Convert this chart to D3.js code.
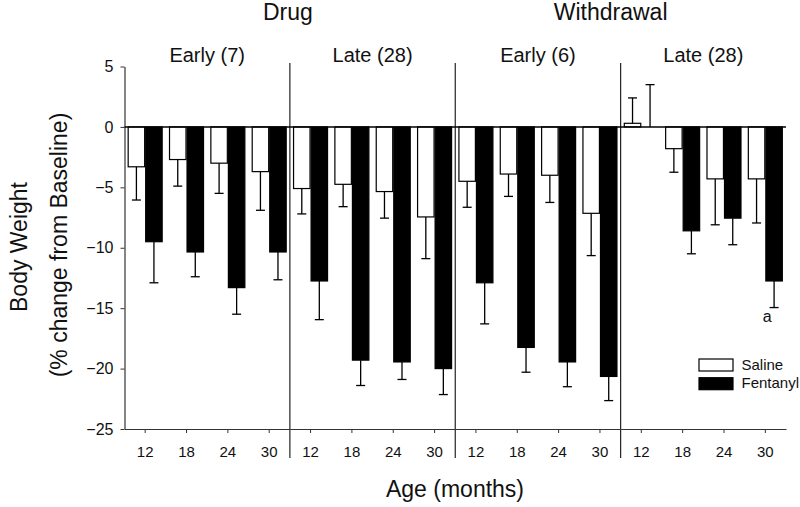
<!DOCTYPE html>
<html>
<head>
<meta charset="utf-8">
<script src="https://cdn.jsdelivr.net/npm/d3@7"></script>
<style>
  html, body { margin: 0; padding: 0; background: #fff; }
  svg { display: block; font-family: "Liberation Sans", Arial, sans-serif; }
</style>
</head>
<body>
<svg id="chart" width="800" height="507"></svg>
<script>
// ---- data ----
const phases = ["Drug", "Withdrawal"];
const panels = ["Early (7)", "Late (28)", "Early (6)", "Late (28)"];
const ages = [12, 18, 24, 30];
const series = ["Saline", "Fentanyl"];
const salineMean = [[-3.3, -2.7, -3.0, -3.7], [-5.1, -4.75, -5.35, -7.45], [-4.5, -3.9, -4.0, -7.15], [0.3, -1.8, -4.3, -4.3]];
const salineErr  = [[2.75, 2.2, 2.5, 3.2], [2.1, 1.85, 2.2, 3.45], [2.15, 1.85, 2.25, 3.5], [2.1, 1.95, 3.8, 3.65]];
const fentMean   = [[-9.5, -10.35, -13.3, -10.35], [-12.75, -19.3, -19.45, -20.0], [-12.9, -18.25, -19.45, -20.65], [0, -8.6, -7.55, -12.75]];
const fentErr    = [[3.4, 2.05, 2.2, 2.3], [3.2, 2.1, 1.45, 2.15], [3.4, 2.05, 2.05, 2.0], [3.5, 1.9, 2.2, 2.2]];
const yTicks = [5, 0, -5, -10, -15, -20, -25];
const annotations = [{ panel: 3, age: 30, series: "Fentanyl", text: "a" }];

// ---- build rows ----
const rows = [];
panels.forEach((p, pi) => ages.forEach((a, ai) => {
  rows.push({ pi, age: a, series: "Saline", mean: salineMean[pi][ai], err: salineErr[pi][ai] });
  rows.push({ pi, age: a, series: "Fentanyl", mean: fentMean[pi][ai], err: fentErr[pi][ai] });
}));

const svg = d3.select("#chart");
const M = { left: 124.5, right: 786, top: 66.5, bottom: 429 };

const xPanel = d3.scaleBand().domain(d3.range(panels.length)).range([M.left, M.right]).paddingInner(0).paddingOuter(0);
const xAge = d3.scaleBand().domain(ages).range([0, xPanel.bandwidth()]);
const xSer = d3.scaleBand().domain(series).range([-17, 17]).paddingInner(0.06);
const y = d3.scaleLinear().domain([-25, 5]).range([M.bottom, M.top]);

const catCenter = d => xPanel(d.pi) + xAge(d.age) + xAge.bandwidth() / 2;

// dividers
svg.append("g").selectAll("line")
  .data(d3.range(1, panels.length))
  .join("line")
  .attr("x1", i => xPanel(i)).attr("x2", i => xPanel(i))
  .attr("y1", 63).attr("y2", 458)
  .attr("stroke", "#222").attr("stroke-width", 1.2);

// y axis
const yAxis = svg.append("g")
  .attr("transform", `translate(${M.left},0)`)
  .call(d3.axisLeft(y).tickValues(yTicks).tickSize(4).tickSizeOuter(0).tickPadding(7));
yAxis.select(".domain").attr("stroke", "#333").attr("stroke-width", 1.2);
yAxis.selectAll(".tick line").attr("stroke", "#333");
yAxis.selectAll("text").attr("font-size", 16).attr("fill", "#111").attr("font-family", "Liberation Sans, Arial, sans-serif");

// x axes per panel
panels.forEach((p, pi) => {
  const g = svg.append("g")
    .attr("transform", `translate(${xPanel(pi)},${M.bottom})`)
    .call(d3.axisBottom(xAge).tickSize(4).tickSizeOuter(0).tickPadding(13));
  g.select(".domain").attr("stroke", "#333").attr("stroke-width", 1.2);
  g.selectAll(".tick line").attr("stroke", "#333");
  g.selectAll("text").attr("font-size", 15).attr("fill", "#111").attr("font-family", "Liberation Sans, Arial, sans-serif");
});

// bars
svg.append("g").selectAll("rect")
  .data(rows)
  .join("rect")
  .attr("x", d => catCenter(d) + xSer(d.series))
  .attr("width", xSer.bandwidth())
  .attr("y", d => y(Math.max(0, d.mean)))
  .attr("height", d => Math.abs(y(d.mean) - y(0)))
  .attr("fill", d => d.series === "Saline" ? "#fff" : "#000")
  .attr("stroke", "#000").attr("stroke-width", 1.2);

// error bars (one-sided, away from zero)
const errEnd = d => d.mean >= 0 ? d.mean + d.err : d.mean - d.err;
const eg = svg.append("g").attr("stroke", "#000").attr("stroke-width", 1.3);
eg.selectAll("line.v").data(rows).join("line").attr("class", "v")
  .attr("x1", d => catCenter(d) + xSer(d.series) + xSer.bandwidth() / 2)
  .attr("x2", d => catCenter(d) + xSer(d.series) + xSer.bandwidth() / 2)
  .attr("y1", d => y(d.mean)).attr("y2", d => y(errEnd(d)));
eg.selectAll("line.c").data(rows).join("line").attr("class", "c")
  .attr("x1", d => catCenter(d) + xSer(d.series) + xSer.bandwidth() / 2 - 4.5)
  .attr("x2", d => catCenter(d) + xSer(d.series) + xSer.bandwidth() / 2 + 4.5)
  .attr("y1", d => y(errEnd(d))).attr("y2", d => y(errEnd(d)));

// zero line
svg.append("line")
  .attr("x1", M.left).attr("x2", M.right)
  .attr("y1", y(0)).attr("y2", y(0))
  .attr("stroke", "#000").attr("stroke-width", 1.5);

// annotation
annotations.forEach(a => {
  const d = rows.find(r => r.pi === a.panel && r.age === a.age && r.series === a.series);
  svg.append("text")
    .attr("x", catCenter(d) + xSer(d.series) + xSer.bandwidth() / 2 - 7)
    .attr("y", y(errEnd(d)) + 14)
    .attr("text-anchor", "middle").attr("font-size", 16).attr("fill", "#111")
    .text(a.text);
});

// panel titles
svg.append("g").selectAll("text")
  .data(panels)
  .join("text")
  .attr("x", (p, i) => xPanel(i) + xPanel.bandwidth() / 2)
  .attr("y", 61.5)
  .attr("text-anchor", "middle").attr("font-size", 20).attr("fill", "#111")
  .text(p => p);

// phase titles
svg.append("g").selectAll("text")
  .data(phases)
  .join("text")
  .attr("x", (p, i) => i === 0 ? xPanel(1) - 2 : xPanel(3) - 10)
  .attr("y", 19.5)
  .attr("text-anchor", "middle").attr("font-size", 23).attr("fill", "#111")
  .text(p => p);

// axis titles
svg.append("text")
  .attr("transform", "translate(27,247) rotate(-90)")
  .attr("text-anchor", "middle").attr("font-size", 23).attr("fill", "#111")
  .text("Body Weight");
svg.append("text")
  .attr("transform", "translate(67,245) rotate(-90)")
  .attr("text-anchor", "middle").attr("font-size", 23).attr("fill", "#111")
  .text("(% change from Baseline)");
svg.append("text")
  .attr("x", 455).attr("y", 496.5)
  .attr("text-anchor", "middle").attr("font-size", 23).attr("fill", "#111")
  .text("Age (months)");

// legend
const leg = svg.append("g").attr("transform", "translate(699,359)");
series.forEach((s, i) => {
  leg.append("rect")
    .attr("x", 0).attr("y", i * 18.7).attr("width", 34).attr("height", 12)
    .attr("fill", s === "Saline" ? "#fff" : "#000").attr("stroke", "#000").attr("stroke-width", 1.2);
  leg.append("text")
    .attr("x", 42.5).attr("y", i * 18.7 + 10.5)
    .attr("font-size", 15).attr("fill", "#111")
    .text(s);
});
</script>
</body>
</html>
